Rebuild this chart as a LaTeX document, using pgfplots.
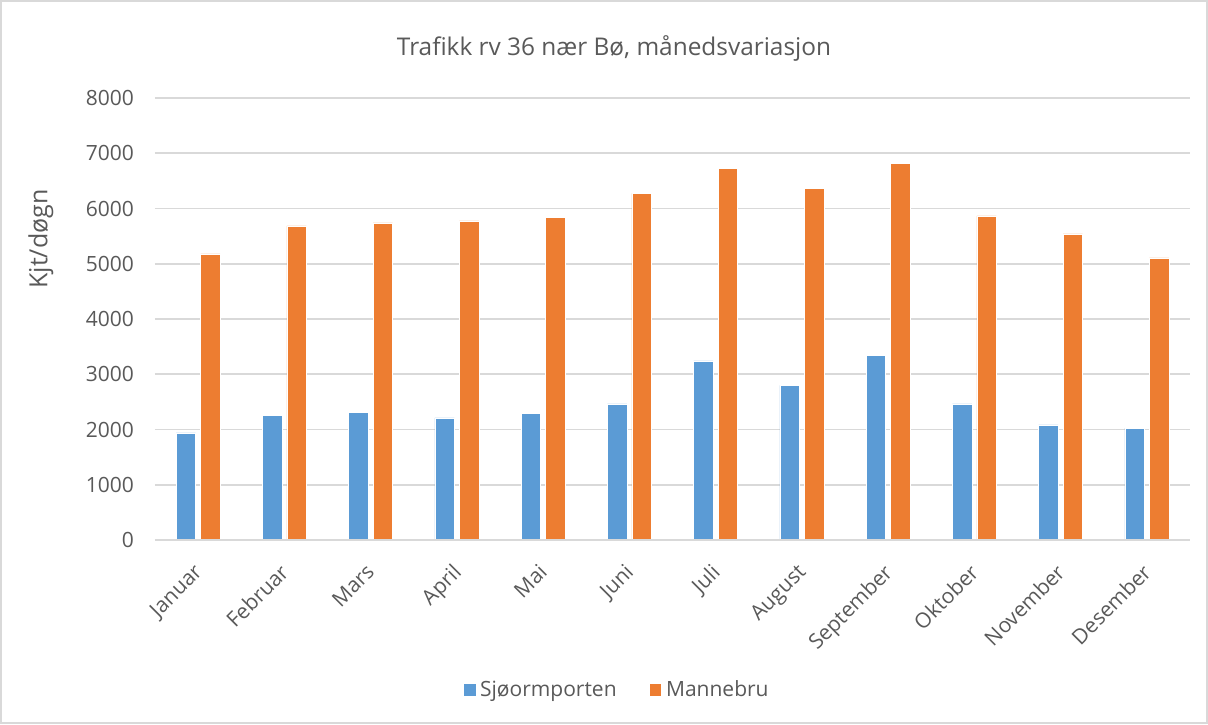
\documentclass[border=0pt]{standalone}
\usepackage{pgfplots}
\pgfplotsset{compat=1.18}
\usepackage{fontspec}
\setmainfont{Open Sans}
\definecolor{cblue}{HTML}{5B9BD5}
\definecolor{corange}{HTML}{ED7D31}
\definecolor{ctext}{HTML}{595959}
\definecolor{cgrid}{HTML}{D9D9D9}
\begin{document}
\begin{tikzpicture}
\useasboundingbox (-77.5pt,-92pt) rectangle (526.5pt,270pt);
\draw[cgrid, line width=0.6pt] (-77pt,-91.5pt) rectangle (526pt,269.5pt);
\begin{axis}[
  at={(0,0)}, anchor=south west,
  scale only axis, width=517.5pt, height=221pt,
  ybar=2.5pt, bar width=9.75pt,
  xmin=-0.5, xmax=11.5, ymin=0, ymax=8000,
  xtick=data,
  xticklabels={Januar,Februar,Mars,April,Mai,Juni,Juli,August,September,Oktober,November,Desember},
  ytick={0,1000,...,8000},
  axis line style={draw=none},
  major tick length=0pt,
  ymajorgrids, grid style={cgrid, line width=0.8pt},
  tick label style={font=\fontsize{10.5}{12}\selectfont, text=ctext},
  xticklabel style={rotate=45, anchor=north east, inner sep=1pt, yshift=-4.9pt, xshift=-8.9pt},
  yticklabel style={xshift=-7pt},
  /pgf/number format/assume math mode=true,
  /pgf/number format/1000 sep={},
  legend style={at={(0.447,-0.339)}, anchor=center, draw=none, legend columns=2,
    font=\fontsize{10.5}{12}\selectfont, text=ctext,
    /tikz/every even column/.append style={column sep=14pt}},
  legend image code/.code={\fill[#1] (0pt,-3.2pt) rectangle (6.4pt,3.2pt);},
]
\addplot[fill=cblue, draw=white, line width=0.3pt] coordinates {
(0,1940) (1,2250) (2,2305) (3,2210) (4,2285) (5,2465) (6,3240) (7,2800) (8,3345) (9,2465) (10,2085) (11,2025)};
\addplot[fill=corange, draw=white, line width=0.3pt] coordinates {
(0,5180) (1,5685) (2,5740) (3,5775) (4,5845) (5,6275) (6,6730) (7,6370) (8,6820) (9,5865) (10,5540) (11,5105)};
\legend{Sjøormporten, Mannebru}
\draw[cgrid, line width=0.8pt] (rel axis cs:0,0) -- (rel axis cs:1,0);
\end{axis}
\node[text=ctext, font=\fontsize{12.2}{15}\selectfont] at (229.5pt,246pt) {Trafikk rv 36 nær Bø, månedsvariasjon};
\node[text=ctext, font=\fontsize{12.5}{15}\selectfont, rotate=90] at (-57pt,150.5pt) {Kjt/døgn};
\end{tikzpicture}
\end{document}
